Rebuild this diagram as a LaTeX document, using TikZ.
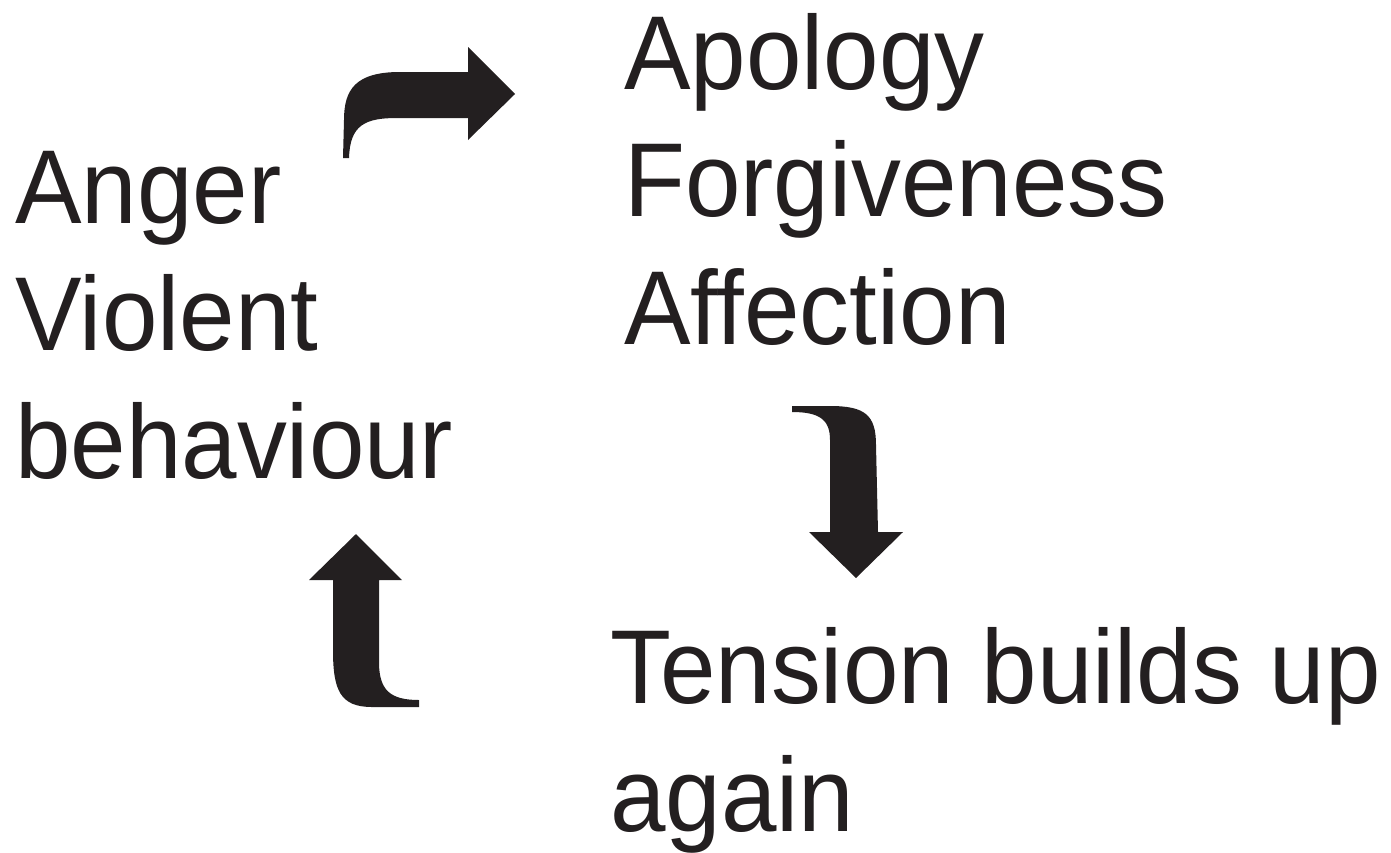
\documentclass[tikz,border=0pt]{standalone}
\usepackage{fontspec}
\setmainfont{Liberation Sans}[FakeStretch=0.95]
\definecolor{ink}{HTML}{231F20}
\begin{document}
\begin{tikzpicture}[x=1pt,y=-1pt,
  lbl/.style={anchor=base west,inner sep=0pt,align=left,text=ink,
    font=\fontsize{105}{127.5}\selectfont},
  bent/.style={fill=ink,draw=none}]
\useasboundingbox (0,0) rectangle (1391,852);
\node[lbl] (left) at (15,478) {Anger\\Violent\\behaviour};
\node[lbl] (right) at (624,344) {Apology\\Forgiveness\\Affection};
\node[lbl] (bottom) at (610,831) {Tension builds up\\again};
% top arrow (curving up then right)
\fill[bent] (343,158) -- (344,120) .. controls (344,90) and (355,72) .. (400,72)
  -- (468,72) -- (468,47) -- (515,94) -- (468,140) -- (468,118) -- (397,118)
  .. controls (365,118) and (350,125) .. (349,158) -- cycle;
% right arrow (curving right then down)
\fill[bent] (792,406) -- (830,406) .. controls (865,406) and (876,415) .. (876,445)
  -- (878,532) -- (903,532) -- (856,578) -- (809,532) -- (830,532) -- (830,440)
  .. controls (830,420) and (820,412) .. (792,412) -- cycle;
% left arrow (curving left then up)
\fill[bent] (356,534) -- (402,580) -- (379,580) -- (379,665)
  .. controls (380,690) and (390,700) .. (419,700) -- (419,707) -- (372,707)
  .. controls (340,707) and (333,690) .. (333,650) -- (333,580) -- (309,580) -- cycle;
\end{tikzpicture}
\end{document}
